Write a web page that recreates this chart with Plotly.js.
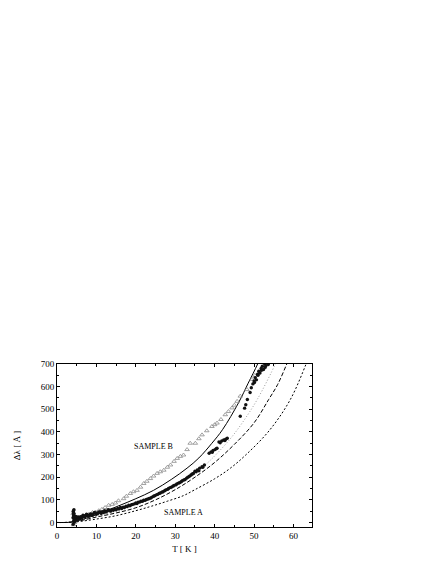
<!DOCTYPE html>
<html>
<head>
<meta charset="utf-8">
<script src="https://cdn.plot.ly/plotly-3.0.1.min.js"></script>
<style>
  html, body { margin: 0; padding: 0; background: #fff; }
  #chart { width: 436px; height: 564px; }
</style>
</head>
<body>
<div id="chart"></div>
<script>
  // fit curves
  const solidT = [0, 2, 4, 8, 12, 16, 20, 24.5, 29, 33, 36, 39.3, 42, 46.1, 48.5, 50.9, 52];
  const solidV = [0, 0, 2, 22, 48, 76, 105, 142, 190, 240, 285, 350, 410, 530, 615, 700, 750];

  const grayT = [0, 2, 5, 10, 15, 20, 25, 30, 35, 38.5, 43.6, 47, 50.8, 55.4, 56.5];
  const grayV = [0, 0, 6, 28, 50, 80, 115, 158, 215, 268, 362, 440, 543, 700, 745];

  const dashT = [0, 2, 5, 10, 15, 20, 25, 30, 35, 40, 45, 50, 53.7, 56, 58.3, 59.5];
  const dashV = [0, 0, 5, 24, 42, 65, 100, 145, 200, 265, 345, 440, 543, 610, 700, 750];

  const shortT = [0, 2, 5, 10, 15, 20, 24, 28, 32, 35, 40, 44, 48, 54, 59.2, 63.2, 64.5];
  const shortV = [0, 0, 3, 15, 30, 52, 72, 94, 118, 145, 193, 240, 300, 409, 543, 700, 760];

  // sample A (filled circles)
  const aT = [4.1, 4.1, 4.1, 4.2, 4.2, 4.2, 4.2, 4.3, 4.3, 4.3, 4.4, 4.4, 4.5, 4.6, 4.7, 4.8, 4.9, 5.0, 5.1, 5.3,
              5.4, 5.6, 5.8, 6.0, 6.2, 6.4, 6.6, 6.8, 7.0, 7.2, 7.5, 7.7, 8.0, 8.2, 8.5, 8.7, 9.0, 9.2, 9.5, 9.8,
              10.0, 10.3, 10.6, 10.9, 11.2, 11.5, 11.8, 12.1, 12.4, 12.7, 13.0, 13.3, 13.6, 14.0, 14.3, 14.7,
              15.0, 15.4, 15.7, 16.1, 16.4, 16.8, 17.1, 17.5, 17.8, 18.2, 18.5, 18.9, 19.2, 19.6, 20.0, 20.3,
              20.6, 21.0, 21.3, 21.7, 22.0, 22.4, 22.7, 23.1, 23.4, 23.8, 24.1, 24.5, 24.8, 25.2, 25.5, 25.9,
              26.2, 26.6, 26.9, 27.3, 27.6, 28.0, 28.3, 28.7, 29.0, 29.4, 29.7, 30.1, 30.4, 30.8, 31.1, 31.5,
              31.8, 32.2, 32.5, 32.9, 33.2, 33.6, 34.0, 34.3, 34.6, 35.0, 35.3, 35.6, 36.0, 36.2, 36.8, 37.0,
              37.4, 38.6, 39.1, 39.4, 39.6, 40.1, 40.4, 40.6, 41.1, 41.4, 41.8, 42.3, 42.6, 42.8, 43.2,
              46.5, 47.6, 47.9, 48.3, 49.0, 49.3, 49.7, 50.0, 50.1, 50.3, 50.6, 50.9, 51.0, 51.2, 51.5, 51.8,
              51.9, 52.1, 52.4, 52.7, 52.8, 53.0, 53.3, 53.4, 53.6];
  const aV = [-8, 48, 22, 5, 30, 52, 38, 12, 40, 56, 20, 2, 8, 28, 16, 15, 26, 20, 10, 14,
              24, 22, 16, 26, 20, 24, 32, 30, 24, 28, 36, 34, 28, 32, 38, 36, 32, 38, 44, 42,
              36, 40, 46, 46, 40, 48, 44, 52, 46, 50, 56, 54, 50, 58, 54, 60,
              56, 62, 60, 66, 62, 68, 66, 72, 70, 76, 74, 78, 80, 82, 86, 84,
              90, 90, 94, 94, 98, 98, 102, 104, 106, 108, 112, 116, 118, 122, 124, 128,
              130, 134, 136, 140, 144, 146, 150, 154, 156, 160, 164, 166, 170, 174, 176, 180,
              184, 188, 190, 196, 200, 204, 210, 214, 216, 226, 224, 232, 228, 240, 246, 244,
              254, 306, 312, 310, 318, 322, 326, 328, 356, 352, 360, 364, 362, 368, 372,
              469, 505, 520, 543, 574, 595, 612, 625, 618, 640, 630, 655, 650, 668, 660, 680,
              672, 690, 676, 700, 685, 692, 705, 710, 698];

  // sample B (open triangles)
  const bT = [4.1, 4.2, 4.3, 4.4, 4.5, 4.8, 5.2, 5.8, 6.5, 7.3, 8.1, 9.0, 9.8, 10.6, 11.4, 12.2, 13.1, 14.0, 14.8, 15.6,
              16.9, 17.6, 18.6, 19.4, 20.3, 21.2, 22.0, 22.8, 23.7, 24.5, 25.4, 26.2, 27.1, 28.0, 28.8, 29.7,
              30.5, 31.3, 32.1, 33.0, 33.8, 35.1, 36.0, 36.8, 38.0, 39.3, 40.0, 40.6, 41.6, 42.7, 43.5, 44.4,
              45.0, 45.7, 46.5, 48.2, 49.5, 50.2];
  const bV = [40, -10, 22, 0, 4, 10, 14, 20, 28, 32, 36, 44, 46, 52, 58, 66, 76, 80, 86, 96,
              105, 116, 128, 136, 142, 156, 172, 182, 194, 205, 217, 224, 231, 244, 254, 270,
              283, 292, 298, 322, 350, 350, 370, 387, 405, 424, 432, 439, 455, 476, 490, 506,
              518, 535, 558, 587, 632, 650];

  const labelText = ['SAMPLE B', 'SAMPLE A'];
  const labelT = [24.5, 32];
  const labelV = [335, 45];

  const serif = 'Liberation Serif, Times New Roman, serif';

  const traces = [
    {x: solidT, y: solidV, mode: 'lines', line: {color: '#000', width: 1, shape: 'spline'}},
    {x: grayT, y: grayV, mode: 'lines', line: {color: '#9a9a9a', width: 1, dash: '1px,2px', shape: 'spline'}},
    {x: dashT, y: dashV, mode: 'lines', line: {color: '#000', width: 1, dash: '4px,2px', shape: 'spline'}},
    {x: shortT, y: shortV, mode: 'lines', line: {color: '#000', width: 1, dash: '2px,2px', shape: 'spline'}},
    {x: bT, y: bV, mode: 'markers',
     marker: {symbol: 'triangle-up-open', size: 4, color: '#8a8a8a', line: {width: 0.8}}},
    {x: aT, y: aV, mode: 'markers',
     marker: {symbol: 'circle', size: 3.4, color: '#111'}}
  ];

  const layout = {
    width: 436,
    height: 564,
    showlegend: false,
    paper_bgcolor: '#fff',
    plot_bgcolor: '#fff',
    margin: {l: 57, r: 124, t: 364, b: 37, pad: 0},
    font: {family: serif, size: 9, color: '#000'},
    xaxis: {
      range: [0, 64.7],
      tickvals: [0, 10, 20, 30, 40, 50, 60],
      ticks: 'inside', ticklen: 3, tickcolor: '#000',
      minor: {dtick: 5, ticks: 'inside', ticklen: 2, tickcolor: '#000'},
      showgrid: false, zeroline: false,
      showline: true, linecolor: '#000', linewidth: 1, mirror: 'ticks',
      tickfont: {family: serif, size: 9, color: '#000'},
      title: {text: 'T [ K ]', font: {family: serif, size: 9}, standoff: 5}
    },
    yaxis: {
      range: [-20, 700],
      tickvals: [0, 100, 200, 300, 400, 500, 600, 700],
      ticks: 'inside', ticklen: 3, tickcolor: '#000',
      minor: {dtick: 50, ticks: 'inside', ticklen: 2, tickcolor: '#000'},
      showgrid: false, zeroline: false,
      showline: true, linecolor: '#000', linewidth: 1, mirror: 'ticks',
      tickfont: {family: serif, size: 9, color: '#000'},
      title: {text: 'Δλ [ Å ]', font: {family: serif, size: 9}, standoff: 18}
    },
    annotations: labelText.map((t, i) => ({
      x: labelT[i], y: labelV[i], text: t, showarrow: false,
      font: {family: serif, size: 8, color: '#000'}
    }))
  };

  Plotly.newPlot('chart', traces, layout, {displayModeBar: false, staticPlot: true});
</script>
</body>
</html>
